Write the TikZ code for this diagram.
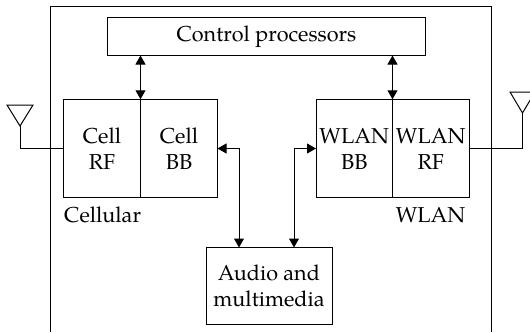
\documentclass[tikz,border=0pt]{standalone}
\usepackage{fontspec}
\setmainfont{TeX Gyre Pagella}
\usetikzlibrary{arrows.meta,positioning}
\tikzset{
    blockbox/.style={draw,line width=1pt,outer sep=0pt,inner sep=0pt,align=center,font=\fontsize{21.6}{26}\selectfont},
    biarrow/.style={<->,>={Triangle[length=9pt,width=10pt]},line width=1pt},
    wire/.style={line width=1pt},
    plainlabel/.style={inner sep=0pt,font=\fontsize{21.6}{26}\selectfont}
}
\begin{document}
\begin{tikzpicture}[x=1pt,y=-1pt]
    \useasboundingbox(0,0)rectangle(530,332);
    \draw[wire](50,332)--(50,6.5)--(491,6.5)--(491,332);

    \node[blockbox,minimum width=318,minimum height=38](ctrl)at(266.5,36.5){Control processors};

    \node[blockbox,minimum width=77,minimum height=98.5](cellrf)at(102,148.5){Cell\\RF};
    \node[blockbox,minimum width=77,minimum height=98.5,right=0pt of cellrf](cellbb){Cell\\BB};
    \node[blockbox,minimum width=76.5,minimum height=98.5](wlanbb)at(354.25,148.5){WLAN\\BB};
    \node[blockbox,minimum width=76.5,minimum height=98.5,right=0pt of wlanbb](wlanrf){WLAN\\RF};
    \node[blockbox,minimum width=126,minimum height=77](audio)at(269,286){Audio and\\multimedia};

    \node[plainlabel,anchor=base west](celltext)at(64,222){Cellular};
    \node[plainlabel,anchor=base east](wlantext)at(465.5,222){WLAN};

    \coordinate(cellant)at(20,126);
    \coordinate(wlanant)at(522.5,113);
    \draw[wire](7,105)--(33,105)--(cellant)--cycle;
    \draw[wire](510,92)--(535,92)--(wlanant)--cycle;
    \draw[wire](cellant)|-(cellrf.west);
    \draw[wire](wlanant)|-(wlanrf.east);

    \draw[biarrow](ctrl.south-|cellrf.east)--(cellrf.north east);
    \draw[biarrow](ctrl.south-|wlanrf.west)--(wlanrf.north west);
    \draw[biarrow](cellbb.east)-|(audio.north-|239,0);
    \draw[biarrow](wlanbb.west)-|(audio.north-|294,0);
\end{tikzpicture}
\end{document}
